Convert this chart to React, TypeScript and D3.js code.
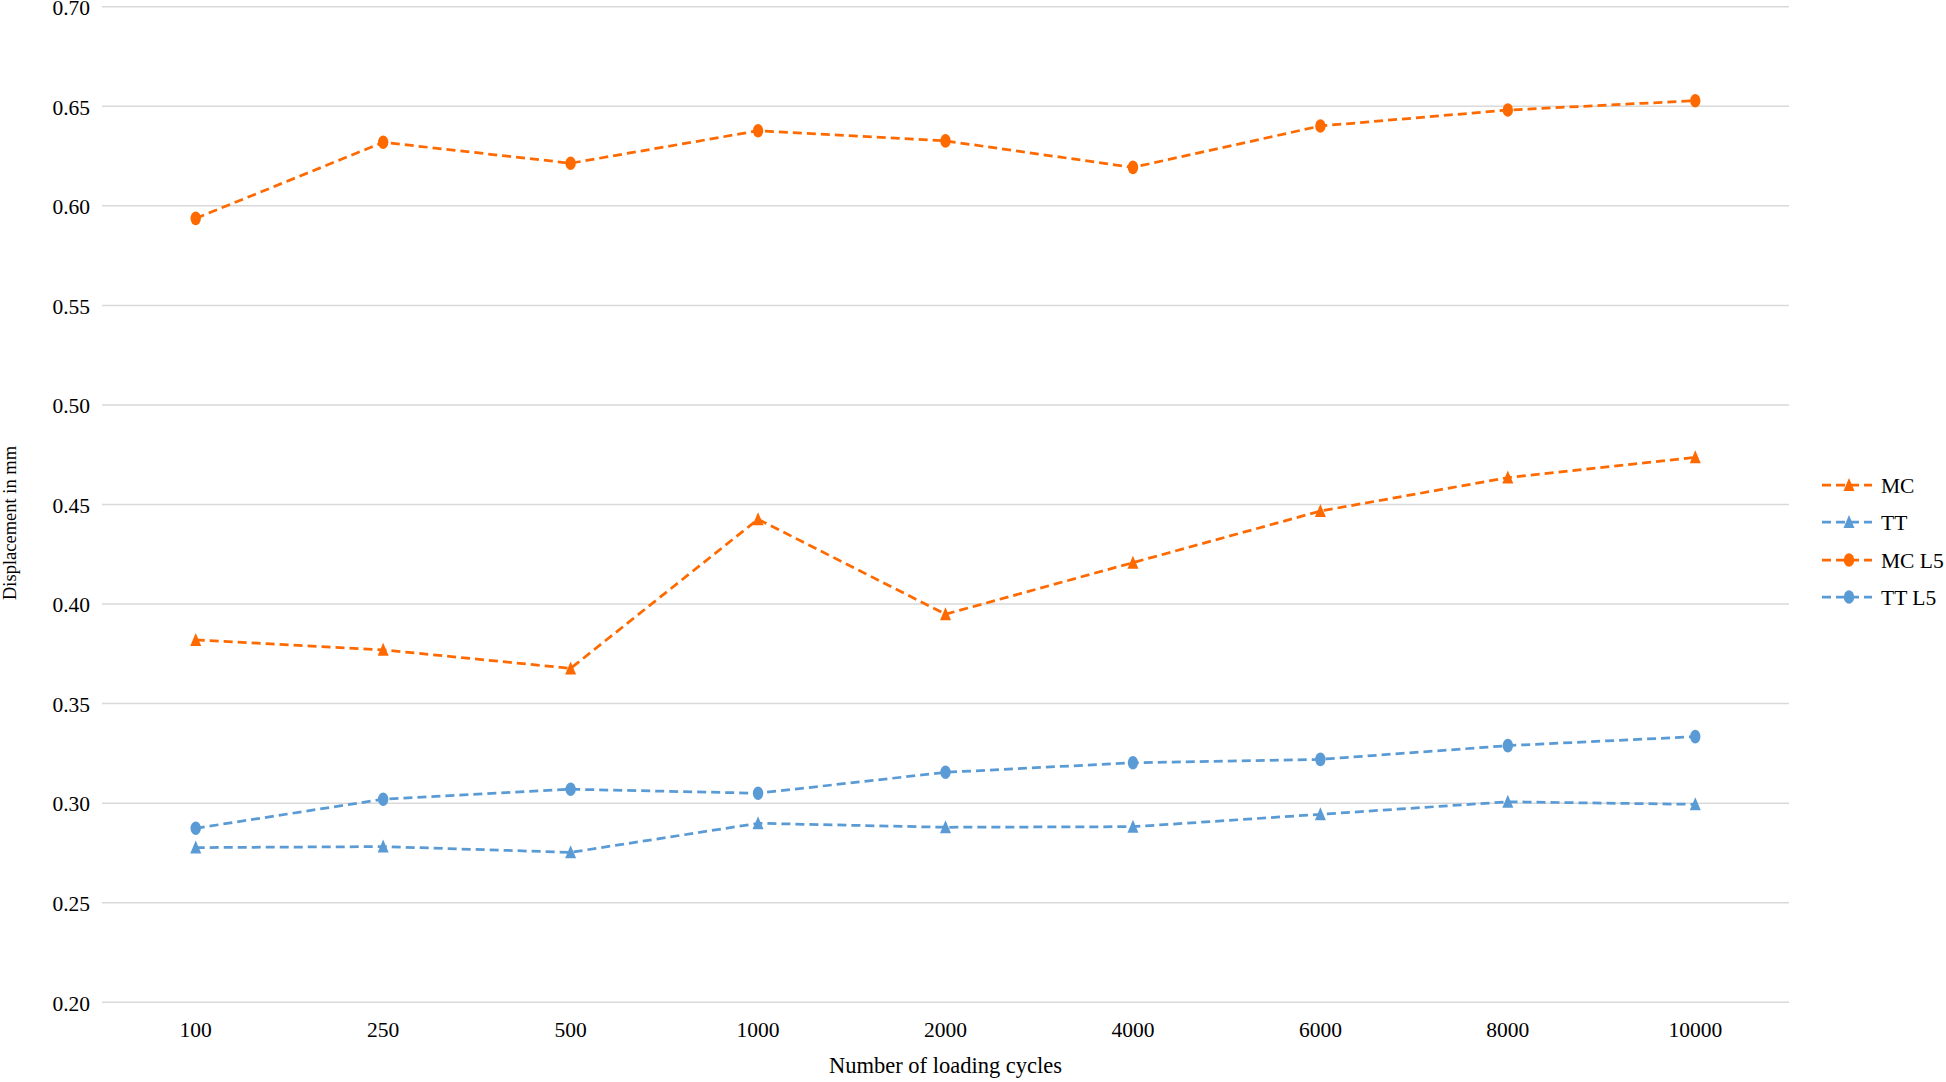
import React from "react";
import * as d3 from "d3";

const categories = ["100", "250", "500", "1000", "2000", "4000", "6000", "8000", "10000"];
const mcValues = [0.382, 0.377, 0.3677, 0.4426, 0.3949, 0.4208, 0.4467, 0.4635, 0.4737];
const ttValues = [0.2777, 0.2782, 0.2753, 0.2899, 0.2879, 0.2882, 0.2944, 0.3007, 0.2994];
const mcL5Values = [0.5937, 0.6319, 0.6214, 0.6377, 0.6326, 0.6193, 0.6401, 0.6481, 0.6528];
const ttL5Values = [0.2874, 0.302, 0.307, 0.305, 0.3155, 0.3203, 0.322, 0.3289, 0.3334];
const yTicks = [0.2, 0.25, 0.3, 0.35, 0.4, 0.45, 0.5, 0.55, 0.6, 0.65, 0.7];
const seriesNames = ["MC", "TT", "MC L5", "TT L5"];

const ORANGE = "#FF6A00";
const BLUE = "#5B9BD5";

const series = [
  { name: seriesNames[0], values: mcValues, color: ORANGE, marker: "triangle" },
  { name: seriesNames[1], values: ttValues, color: BLUE, marker: "triangle" },
  { name: seriesNames[2], values: mcL5Values, color: ORANGE, marker: "circle" },
  { name: seriesNames[3], values: ttL5Values, color: BLUE, marker: "circle" },
];

const W = 1946;
const H = 1082;
const FONT = "'Liberation Serif', 'Times New Roman', serif";

function Marker({ type, x, y, color }: { type: string; x: number; y: number; color: string }) {
  if (type === "circle") {
    return <ellipse cx={x} cy={y} rx={5.2} ry={6.8} fill={color} />;
  }
  const hw = 5.5;
  const hh = 7;
  return (
    <path
      d={`M${x},${y - hh}L${x + hw},${y + hh - 1}L${x - hw},${y + hh - 1}Z`}
      fill={color}
    />
  );
}

export default function App() {
  const x = d3.scalePoint<string>().domain(categories).range([102, 1789]).padding(0.5);
  const y = d3.scaleLinear().domain([0.2, 0.7]).range([1002.3, 6.7]);

  const line = d3
    .line<number>()
    .x((_, i) => x(categories[i]) as number)
    .y((d) => y(d));

  const legendX = 1822;
  const legendRows = [485, 522, 560, 597];

  return (
    <svg
      width={W}
      height={H}
      style={{ position: "absolute", left: 0, top: 0, background: "#fff" }}
      fontFamily={FONT}
    >
      {yTicks.map((t) => (
        <g key={t}>
          <line x1={102} x2={1789} y1={y(t)} y2={y(t)} stroke="#D9D9D9" strokeWidth={1.5} />
          <text x={90} y={y(t) + 8.3} textAnchor="end" fontSize={21.5} fill="#000">
            {t.toFixed(2)}
          </text>
        </g>
      ))}
      {categories.map((c) => (
        <text key={c} x={x(c)} y={1037} textAnchor="middle" fontSize={21.5} fill="#000">
          {c}
        </text>
      ))}
      {series.map((s) => (
        <g key={s.name}>
          <path
            d={line(s.values) || ""}
            fill="none"
            stroke={s.color}
            strokeWidth={2.75}
            strokeDasharray="9,5"
          />
          {s.values.map((v, i) => (
            <Marker key={i} type={s.marker} x={x(categories[i]) as number} y={y(v)} color={s.color} />
          ))}
        </g>
      ))}
      {series.map((s, i) => (
        <g key={"lg" + s.name}>
          <line
            x1={legendX}
            x2={legendX + 50}
            y1={legendRows[i]}
            y2={legendRows[i]}
            stroke={s.color}
            strokeWidth={2.75}
            strokeDasharray="9,5"
          />
          <Marker type={s.marker} x={legendX + 27} y={legendRows[i]} color={s.color} />
          <text x={1881} y={legendRows[i] + 7.5} fontSize={21.5} fill="#000">
            {s.name}
          </text>
        </g>
      ))}
      <text x={945.5} y={1073} textAnchor="middle" fontSize={22.5} fill="#000">
        Number of loading cycles
      </text>
      <text
        transform={`translate(16,523) rotate(-90)`}
        textAnchor="middle"
        fontSize={18.5}
        fill="#000"
      >
        Displacement in mm
      </text>
    </svg>
  );
}
